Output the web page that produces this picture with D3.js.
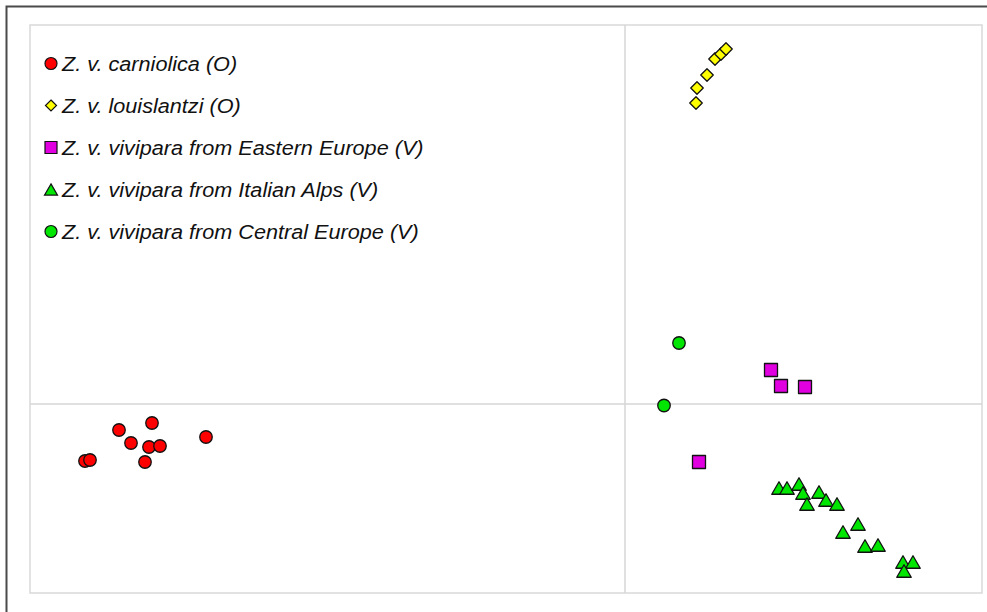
<!DOCTYPE html>
<html>
<head>
<meta charset="utf-8">
<script src="https://cdn.jsdelivr.net/npm/d3@7"></script>
<style>
  html, body { margin: 0; padding: 0; background: #fff; }
  svg { display: block; }
  .legend text { font-family: "Liberation Sans", Arial, sans-serif; font-style: italic; font-size: 19.5px; fill: #111; }
</style>
</head>
<body>
<svg id="chart" width="987" height="612"></svg>
<script>
// Ordination scores (axis 1, axis 2) per group
const carniolica = [
  [-5.06, -0.26], [-4.73, -0.19], [-4.94, -0.39], [-4.76, -0.43], [-4.65, -0.42],
  [-4.19, -0.33], [-5.40, -0.57], [-5.35, -0.56], [-4.80, -0.58]
];
const louislantzi = [
  [0.71, 3.01], [0.72, 3.16], [0.82, 3.29], [0.90, 3.45], [0.96, 3.50], [1.01, 3.55]
];
const viviparaEast = [
  [1.46, 0.34], [1.56, 0.18], [1.80, 0.17], [0.74, -0.58]
];
const viviparaAlps = [
  [1.54, -0.84], [1.62, -0.84], [1.74, -0.80], [1.78, -0.89], [1.82, -1.00],
  [1.94, -0.88], [2.01, -0.96], [2.12, -1.00], [2.18, -1.28], [2.33, -1.20],
  [2.40, -1.42], [2.53, -1.41], [2.78, -1.58], [2.88, -1.58], [2.79, -1.67]
];
const viviparaCentral = [
  [0.54, 0.61], [0.39, -0.015]
];

const seriesNames = [
  "Z. v. carniolica (O)",
  "Z. v. louislantzi (O)",
  "Z. v. vivipara from Eastern Europe (V)",
  "Z. v. vivipara from Italian Alps (V)",
  "Z. v. vivipara from Central Europe (V)"
];
const seriesColors = ["#ff0000", "#ffff00", "#e000e0", "#00e600", "#00e600"];
const seriesShapes = ["circle", "diamond", "square", "triangle", "circle"];
const seriesData = [carniolica, louislantzi, viviparaEast, viviparaAlps, viviparaCentral];

const xDomain = [-5.95, 3.57];
const yDomain = [-1.89, 3.79];

const svg = d3.select("#chart");
const W = 987, H = 612;
const plot = { left: 30, top: 25, right: 982, bottom: 593 };

const x = d3.scaleLinear().domain(xDomain).range([plot.left, plot.right]);
const y = d3.scaleLinear().domain(yDomain).range([plot.bottom, plot.top]);

// outer frame (left and top edges visible)
svg.append("path")
  .attr("d", `M6.5,${H} V6.5 H${W}`)
  .attr("fill", "none")
  .attr("stroke", "#4a4a4a")
  .attr("stroke-width", 2);

// plot area frame
svg.append("rect")
  .attr("x", plot.left).attr("y", plot.top)
  .attr("width", plot.right - plot.left).attr("height", plot.bottom - plot.top)
  .attr("fill", "#fff")
  .attr("stroke", "#d9d9d9")
  .attr("stroke-width", 1.5);

// zero lines
svg.append("line")
  .attr("x1", x(0)).attr("x2", x(0))
  .attr("y1", plot.top).attr("y2", plot.bottom)
  .attr("stroke", "#d6d6d6").attr("stroke-width", 1.5);
svg.append("line")
  .attr("x1", plot.left).attr("x2", plot.right)
  .attr("y1", y(0)).attr("y2", y(0))
  .attr("stroke", "#d6d6d6").attr("stroke-width", 1.5);

// marker path generators, centred on (0,0)
function shapePath(shape, s) {
  switch (shape) {
    case "circle": {
      const r = s / 2;
      return `M${r},0 A${r},${r} 0 1,1 ${-r},0 A${r},${r} 0 1,1 ${r},0 Z`;
    }
    case "diamond": {
      const r = s / 2;
      return `M0,${-r} L${r},0 L0,${r} L${-r},0 Z`;
    }
    case "square": {
      const r = s / 2;
      return `M${-r},${-r} H${r} V${r} H${-r} Z`;
    }
    case "triangle": {
      const w = s / 2, h = s * 0.43;
      return `M0,${-h} L${w},${h} L${-w},${h} Z`;
    }
  }
}
const markerSize = { circle: 12.5, diamond: 12.5, square: 13, triangle: 14.5 };
const legendSize = { circle: 12, diamond: 11, square: 12, triangle: 13 };

const marks = svg.append("g").attr("class", "marks");
seriesData.forEach((data, i) => {
  marks.append("g")
    .selectAll("path")
    .data(data)
    .join("path")
    .attr("transform", d => `translate(${x(d[0])},${y(d[1])})`)
    .attr("d", shapePath(seriesShapes[i], markerSize[seriesShapes[i]]))
    .attr("fill", seriesColors[i])
    .attr("stroke", "#111")
    .attr("stroke-width", 1.3)
    .attr("stroke-linejoin", "round");
});

// legend
const legend = svg.append("g").attr("class", "legend");
const rows = legend.selectAll("g")
  .data(seriesNames)
  .join("g")
  .attr("transform", (d, i) => `translate(51,${63.5 + i * 42})`);
rows.append("path")
  .attr("d", (d, i) => shapePath(seriesShapes[i], legendSize[seriesShapes[i]]))
  .attr("fill", (d, i) => seriesColors[i])
  .attr("stroke", "#111")
  .attr("stroke-width", 1.2);
// the label face runs a little wide, so stretch it horizontally
rows.append("text")
  .attr("transform", "translate(11,7) scale(1.11,1)")
  .text(d => d);
</script>
</body>
</html>
